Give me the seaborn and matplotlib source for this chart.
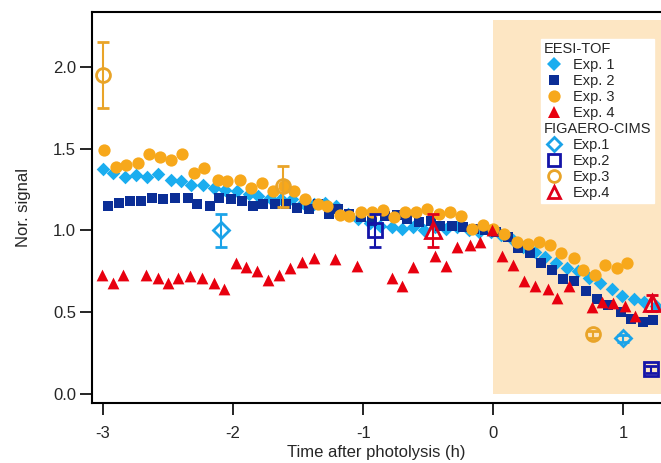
import numpy as np
import pandas as pd
import matplotlib
matplotlib.use('Agg')
import matplotlib.pyplot as plt
from matplotlib.lines import Line2D
import seaborn as sns

# EESI-TOF data (time after photolysis in h, normalised signal)
t_eesi1 = [-3.00, -2.92, -2.83, -2.75, -2.66, -2.58, -2.48, -2.40, -2.32, -2.23, -2.15, -2.06,
           -1.97, -1.88, -1.81, -1.72, -1.63, -1.55, -1.46, -1.38, -1.29, -1.21, -1.12, -1.04,
           -0.95, -0.87, -0.78, -0.70, -0.62, -0.53, -0.45, -0.36, -0.28, -0.19, -0.11, -0.02,
           0.06, 0.15, 0.23, 0.32, 0.40, 0.48, 0.57, 0.65, 0.74, 0.82, 0.91, 0.99, 1.08, 1.16, 1.25]
y_eesi1 = [1.375, 1.35, 1.325, 1.34, 1.33, 1.345, 1.31, 1.30, 1.28, 1.28, 1.26, 1.25,
           1.24, 1.22, 1.21, 1.20, 1.19, 1.19, 1.17, 1.16, 1.17, 1.15, 1.10, 1.07,
           1.045, 1.03, 1.02, 1.01, 1.02, 1.00, 1.02, 1.01, 1.02, 1.00, 0.99, 0.99,
           0.97, 0.94, 0.90, 0.87, 0.84, 0.80, 0.77, 0.75, 0.71, 0.68, 0.64, 0.60, 0.58, 0.56, 0.54]

t_eesi2 = [-2.96, -2.88, -2.79, -2.71, -2.62, -2.54, -2.45, -2.35, -2.28, -2.18, -2.11, -2.02,
           -1.93, -1.85, -1.77, -1.68, -1.59, -1.51, -1.42, -1.35, -1.26, -1.19, -1.11, -1.02,
           -0.93, -0.83, -0.74, -0.66, -0.57, -0.48, -0.41, -0.32, -0.23, -0.15, -0.06,
           0.02, 0.11, 0.19, 0.28, 0.37, 0.45, 0.54, 0.62, 0.71, 0.80, 0.88, 0.98, 1.06, 1.15, 1.23]
y_eesi2 = [1.15, 1.17, 1.18, 1.18, 1.20, 1.19, 1.20, 1.20, 1.16, 1.15, 1.20, 1.19,
           1.18, 1.15, 1.16, 1.16, 1.16, 1.14, 1.13, 1.16, 1.10, 1.13, 1.10, 1.08,
           1.06, 1.09, 1.095, 1.07, 1.05, 1.055, 1.03, 1.03, 1.02, 1.01, 1.00,
           0.99, 0.96, 0.89, 0.86, 0.80, 0.76, 0.705, 0.69, 0.63, 0.58, 0.545, 0.50, 0.46, 0.44, 0.45]

t_eesi3 = [-2.99, -2.90, -2.82, -2.73, -2.65, -2.56, -2.48, -2.39, -2.30, -2.22, -2.12, -2.05,
           -1.95, -1.86, -1.78, -1.69, -1.61, -1.53, -1.45, -1.35, -1.28, -1.18, -1.11, -1.02,
           -0.93, -0.85, -0.76, -0.68, -0.59, -0.51, -0.42, -0.33, -0.25, -0.16, -0.08, 0.00,
           0.08, 0.18, 0.27, 0.35, 0.44, 0.52, 0.62, 0.69, 0.78, 0.86, 0.95, 1.03]
y_eesi3 = [1.49, 1.39, 1.40, 1.41, 1.47, 1.45, 1.43, 1.47, 1.35, 1.38, 1.31, 1.30,
           1.31, 1.26, 1.29, 1.24, 1.27, 1.24, 1.19, 1.16, 1.15, 1.095, 1.09, 1.11,
           1.11, 1.125, 1.08, 1.11, 1.11, 1.13, 1.10, 1.115, 1.09, 1.01, 1.035, 1.01,
           0.98, 0.93, 0.92, 0.93, 0.91, 0.86, 0.83, 0.76, 0.73, 0.79, 0.77, 0.80]

t_eesi4 = [-3.01, -2.92, -2.85, -2.67, -2.58, -2.50, -2.42, -2.33, -2.24, -2.15, -2.07, -1.98,
           -1.90, -1.82, -1.73, -1.65, -1.56, -1.47, -1.38, -1.22, -1.05, -0.78, -0.70, -0.62,
           -0.45, -0.36, -0.28, -0.18, -0.10, -0.01, 0.07, 0.15, 0.24, 0.32, 0.42, 0.49,
           0.58, 0.76, 0.84, 0.92, 1.01, 1.09]
y_eesi4 = [0.73, 0.68, 0.73, 0.73, 0.71, 0.68, 0.71, 0.72, 0.71, 0.68, 0.64, 0.80,
           0.775, 0.755, 0.70, 0.73, 0.77, 0.81, 0.83, 0.825, 0.78, 0.71, 0.66, 0.775,
           0.845, 0.785, 0.90, 0.91, 0.93, 1.00, 0.845, 0.79, 0.69, 0.66, 0.645, 0.585,
           0.66, 0.535, 0.56, 0.555, 0.54, 0.48]

# FIGAERO-CIMS data with error bars
t_fig1 = [-2.09, 1.00]
y_fig1 = [1.00, 0.34]
e_fig1 = [0.10, 0.02]
t_fig2 = [-0.91, 1.21]
y_fig2 = [1.00, 0.15]
e_fig2 = [0.10, 0.02]
t_fig3 = [-3.00, -1.62, 0.77]
y_fig3 = [1.95, 1.27, 0.365]
e_fig3 = [0.20, 0.125, 0.02]
t_fig4 = [-0.46, 1.22]
y_fig4 = [1.00, 0.555]
e_fig4 = [0.10, 0.05]

eesi_labels = ['Exp. 1', 'Exp. 2', 'Exp. 3', 'Exp. 4']
fig_labels = ['Exp.1', 'Exp.2', 'Exp.3', 'Exp.4']

sns.set_style('ticks')
plt.rcParams['font.family'] = ['Liberation Sans', 'DejaVu Sans']
plt.rcParams['axes.unicode_minus'] = False

fig = plt.figure(figsize=(6.61, 4.63), dpi=100)
ax = fig.add_axes([92 / 661, 1 - 403 / 463, 1 - 92 / 661, (403 - 12) / 463])

# photolysis period shading
ax.fill_between([0, 1.4], 0, 2.29, color='#FDE6C3', linewidth=0, zorder=0)

eesi = [
    (t_eesi1, y_eesi1, 'D', '#1AADEF', 48),
    (t_eesi2, y_eesi2, 's', '#0B2E96', 58),
    (t_eesi3, y_eesi3, 'o', '#F7A81B', 78),
    (t_eesi4, y_eesi4, '^', '#E8000F', 72),
]
for t, y, m, c, s in eesi:
    sns.scatterplot(x=t, y=y, marker=m, color=c, s=s, linewidth=0, ax=ax, zorder=3)

figaero = [
    (t_fig1, y_fig1, e_fig1, 'D', '#1BA3E8', 8.5),
    (t_fig2, y_fig2, e_fig2, 's', '#1414A8', 9.5),
    (t_fig3, y_fig3, e_fig3, 'o', '#E9A428', 10),
    (t_fig4, y_fig4, e_fig4, '^', '#E0001A', 11),
]
for t, y, e, m, c, ms in figaero:
    ax.errorbar(t, y, yerr=e, fmt=m, color=c, mfc='none', mec=c, ms=ms, mew=2,
                elinewidth=1.5, capsize=4, capthick=1.5, zorder=4)

ax.set_xlim(-3.085, 1.29)
ax.set_ylim(-0.055, 2.336)
ax.set_xticks([-3, -2, -1, 0, 1])
ax.set_yticks([0.0, 0.5, 1.0, 1.5, 2.0])
ax.set_yticklabels(['0.0', '0.5', '1.0', '1.5', '2.0'])
ax.tick_params(axis='both', direction='out', length=8.5, width=1.2, labelsize=12, color='black')
ax.tick_params(axis='x', pad=8)
ax.tick_params(axis='y', pad=3)
for side in ['left', 'bottom', 'top']:
    ax.spines[side].set_linewidth(1.5)
    ax.spines[side].set_color('black')
ax.spines['right'].set_visible(False)
ax.set_xlabel('Time after photolysis (h)', fontsize=12, labelpad=3)
ax.set_ylabel('Nor. signal', fontsize=12, labelpad=16)

# legend with group headers
handles = [Line2D([], [], linestyle='none')]
labels = ['EESI-TOF']
for (t, y, m, c, s), lab in zip(eesi, eesi_labels):
    handles.append(Line2D([], [], linestyle='none', marker=m, color=c, ms=np.sqrt(s), mew=0))
    labels.append(lab)
handles.append(Line2D([], [], linestyle='none'))
labels.append('FIGAERO-CIMS')
for (t, y, e, m, c, ms), lab in zip(figaero, fig_labels):
    handles.append(Line2D([], [], linestyle='none', marker=m, mfc='none', mec=c, ms=ms * 0.85, mew=2))
    labels.append(lab)

leg = ax.legend(handles, labels, loc='upper right', bbox_to_anchor=(0.988, 0.931),
                frameon=True, fancybox=False, framealpha=1, edgecolor='white',
                fontsize=10.5, handlelength=1.4, handletextpad=0.6, labelspacing=0.14,
                borderpad=0.2, borderaxespad=0)
leg.set_zorder(5)
for vp in leg._legend_handle_box.get_children():
    for hp in vp.get_children():
        da, txt = hp.get_children()
        if txt.get_text() in ('EESI-TOF', 'FIGAERO-CIMS'):
            da.set_width(0)
            hp.sep = 0

fig.savefig('out.png', dpi=100)
